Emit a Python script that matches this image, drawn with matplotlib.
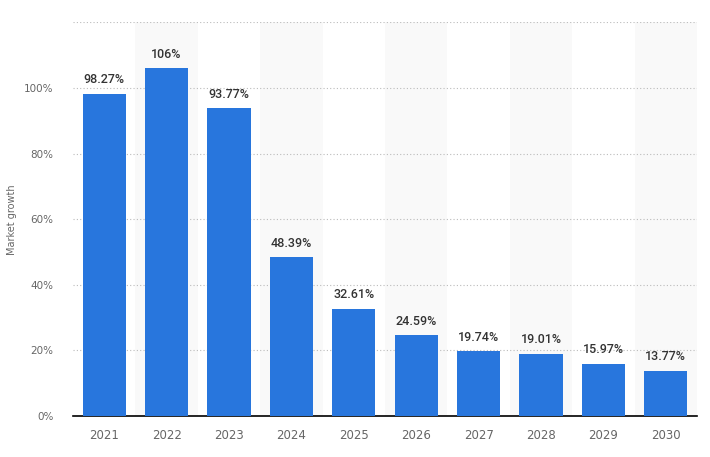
import matplotlib.pyplot as plt
import numpy as np

years = ['2021', '2022', '2023', '2024', '2025', '2026', '2027', '2028', '2029', '2030']
growth = [98.27, 106, 93.77, 48.39, 32.61, 24.59, 19.74, 19.01, 15.97, 13.77]
labels = ['98.27%', '106%', '93.77%', '48.39%', '32.61%', '24.59%', '19.74%', '19.01%', '15.97%', '13.77%']

fig = plt.figure(figsize=(7.1, 4.57), dpi=100)
ax = fig.add_axes([0.1028, 0.0897, 0.8789, 0.8613])

x = np.arange(len(years))

# light stripes behind every other column
for i in x[1::2]:
    ax.axvspan(i - 0.5, i + 0.5, color='#f9f9f9', zorder=0, lw=0)

ax.bar(x, growth, width=0.69, color='#2876dd', zorder=3)

for xi, v, lab in zip(x, growth, labels):
    ax.text(xi, v + 2.3, lab, ha='center', va='bottom', fontsize=9,
            color='#333333', family=['Roboto', 'DejaVu Sans'],
            fontweight='medium', zorder=4)

ax.set_xlim(-0.5, len(years) - 0.5)
ax.set_ylim(0, 120)
ax.set_yticks(np.arange(0, 121, 20))
ax.set_yticklabels([f'{t}%' if t < 120 else '' for t in range(0, 121, 20)])
ax.set_xticks(x)
ax.set_xticklabels(years)

ax.yaxis.grid(True, linestyle=(0, (1, 2)), color='#bbbbbb', lw=0.8, zorder=1)
ax.set_axisbelow(True)

for s in ['top', 'right', 'left']:
    ax.spines[s].set_visible(False)
ax.spines['bottom'].set_color('#000000')
ax.spines['bottom'].set_linewidth(1.2)

ax.tick_params(axis='both', length=0, colors='#666666')
ax.tick_params(axis='x', pad=9, labelsize=8.5)
ax.tick_params(axis='y', pad=14, labelsize=7.5)

ax.set_ylabel('Market growth', fontsize=7, color='#666666')
ax.yaxis.set_label_coords(-0.09, 0.5)

fig.savefig('out.png', dpi=100)
